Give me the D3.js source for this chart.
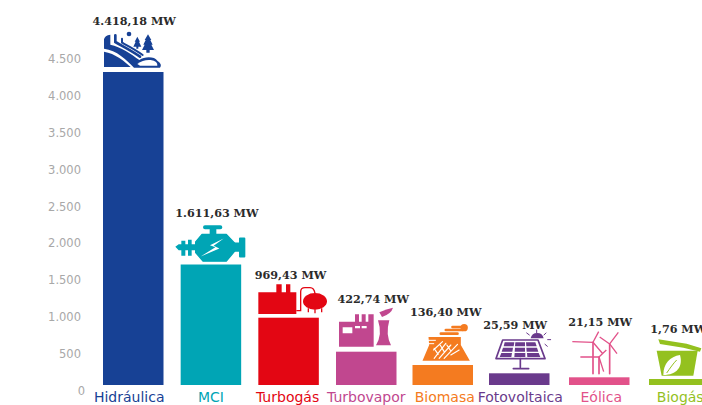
<!DOCTYPE html>
<html lang="es">
<head>
<meta charset="utf-8">
<style>
  html, body { margin: 0; padding: 0; background: #fff; overflow: hidden; }
  svg { display: block; }
</style>
<script src="https://cdn.jsdelivr.net/npm/d3@7/dist/d3.min.js"></script>
</head>
<body>
<svg id="chart" width="702" height="405"></svg>
<script>
// Potencia instalada por tecnología (MW)
const categories = ["Hidráulica", "MCI", "Turbogás", "Turbovapor", "Biomasa", "Fotovoltaica", "Eólica", "Biogás"];
const capacityMW = [4418.18, 1611.63, 969.43, 422.74, 136.40, 25.59, 21.15, 1.76];
const barColors = ["#174195", "#00a5b5", "#e30613", "#c1478f", "#f47b20", "#6a3a8c", "#e2528a", "#94c11f"];
const axisTicks = [0, 500, 1000, 1500, 2000, 2500, 3000, 3500, 4000, 4500];

const svg = d3.select("#chart");
const es = d3.formatLocale({ decimal: ",", thousands: ".", grouping: [3], currency: ["", ""] });

// The columns are an infographic: heights follow a stepped, non-proportional
// scale so that the smallest technologies stay visible beneath their pictograms.
const sorted = capacityMW.slice().sort(d3.ascending);
const barY = d3.scaleLinear()
  .domain([0, ...sorted])
  .range([385, 379, 377.3, 373.3, 365, 351.7, 317.7, 264.5, 72]);

const axisY = d3.scaleLinear().domain([0, 4500]).range([390.7, 59]);

// Column positions: spacing drifts slightly across the row of pictograms.
const barX = d3.scaleLinear().domain([0, 3, 5, 7]).range([103, 336, 489, 649]);
const barWidth = 60.5;

// Value axis: labels only
const axis = svg.append("g")
  .attr("transform", "translate(81,0)")
  .call(d3.axisLeft(axisY).tickValues(axisTicks).tickSize(0).tickPadding(0).tickFormat(es.format(",d")));
axis.select(".domain").remove();
axis.selectAll("text")
  .attr("font-family", "DejaVu Sans")
  .attr("font-size", 11.5)
  .attr("fill", "#a8a8a8")
  .attr("dx", d => d === 0 ? 4 : 0);

// Columns
svg.append("g").selectAll("rect")
  .data(capacityMW)
  .join("rect")
  .attr("x", (d, i) => barX(i))
  .attr("y", d => barY(d))
  .attr("width", barWidth)
  .attr("height", d => barY(0) - barY(d))
  .attr("fill", (d, i) => barColors[i]);

// Category names along the lower edge of the page
svg.append("g").selectAll("text")
  .data(categories)
  .join("text")
  .attr("x", (d, i) => barX(i) + barWidth / 2 + [-4, 0, -1, 0, 2, 1, 2, 1][i])
  .attr("y", 402)
  .attr("text-anchor", "middle")
  .attr("font-family", "DejaVu Sans")
  .attr("font-size", 14)
  .attr("fill", (d, i) => barColors[i])
  .text(d => d);

// Value labels, lifted above each pictogram
const labelLift = [47, 48, 39, 49, 49, 44, 51, 46];
const labelShift = [1, 6, 2, 7, 3, -4, 1, -1];
svg.append("g").selectAll("text")
  .data(capacityMW)
  .join("text")
  .attr("x", (d, i) => barX(i) + barWidth / 2 + labelShift[i])
  .attr("y", (d, i) => barY(d) - labelLift[i])
  .attr("text-anchor", "middle")
  .attr("font-family", "DejaVu Serif")
  .attr("font-weight", "bold")
  .attr("font-size", 11.2)
  .attr("fill", "#2b2b2b")
  .text(d => es.format(",.2f")(d) + " MW");

// Pictograms, authored on a grid three times the page size; each one is
// placed relative to the top-left corner of its column.
const pictograms = [
  { origin: [309, 216], draw(g, c) {
      g.append("path").attr("fill", c).attr("d", "M312,155C345,160 375,185 392,201L312,201Z");
      g.append("path").attr("fill", c).attr("d",
        "M312,118Q314,106 331,104V134C362,140 395,163 418,180C435,168 465,170 472,182Q488,192 480,203H402C380,180 350,150 312,146Z");
      g.append("path").attr("fill", "#fff").attr("d", "M412,192Q430,178 452,180Q474,184 472,197H420Z");
      g.append("path").attr("fill", "none").attr("stroke", c).attr("stroke-width", 8).attr("stroke-linecap", "round")
        .attr("d", "M346,106V126C370,140 395,152 420,170");
      g.append("path").attr("fill", "none").attr("stroke", c).attr("stroke-width", 6).attr("stroke-linecap", "round")
        .attr("d", "M366,116V128C385,138 405,148 428,165");
      g.append("circle").attr("cx", 387).attr("cy", 102).attr("r", 7).attr("fill", c);
      g.append("path").attr("fill", c).attr("d", "M412,110L420,125H417L424,140H415V146H409V140H400L407,125H404Z");
      g.append("path").attr("fill", c).attr("d", "M444,103L454,120H451L458,134H454L462,150H449V158H439V150H426L434,134H430L437,120H434Z");
  }},
  { origin: [58, 208], draw(g, c) {
      g.append("path").attr("fill", c).attr("stroke", c).attr("stroke-width", 4).attr("stroke-linejoin", "round")
        .attr("d", "M122,118H195L220,144V168L195,198H125L103,172V140Z");
      g.append("path").attr("fill", c).attr("d", "M42,155L52,147H60V137H72V147H80V134H91V147H105V165H91V182H80V165H72V182H60V165H52Z");
      g.append("path").attr("fill", c).attr("d", "M215,142H233V130Q233,127 236,127H249Q252,127 252,130V184Q252,187 249,187H236Q233,187 233,184V170H215Z");
      g.append("path").attr("fill", c).attr("d", "M131,90H177Q183,90 183,96Q183,102 177,102H165V122H145V102H131Q125,102 125,96Q125,90 131,90Z");
      g.append("path").attr("fill", "#fff").attr("d", "M187,130L146,150L162,156L118,184L174,160L157,152Z");
  }},
  { origin: [295, 368], draw(g, c) {
      g.append("path").attr("fill", c).attr("d", "M295,292H349V268H365V292H378V268H391V292H409V357H295Z");
      g.append("ellipse").attr("cx", 465).attr("cy", 319).attr("rx", 36).attr("ry", 25).attr("fill", c);
      g.append("path").attr("fill", "none").attr("stroke", c).attr("stroke-width", 4)
        .attr("d", "M409,347H422V290Q422,278 435,278H450Q462,278 465,295M445,340V352M465,343V355M485,340V352");
  }},
  { origin: [528, 470], draw(g, c) {
      g.append("path").attr("fill", c).attr("d",
        "M537,380H585V358H597V380H605V358H617V380H625V358H641V455H537Z");
      g.append("path").attr("fill", "#fff").attr("d", "M548,397H577V415H548ZM585,393H600V400H585ZM605,393H620V400H605Z");
      g.append("path").attr("fill", c).attr("d", "M648,451Q668,418 654,376H688Q676,418 693,451Z");
      g.append("path").attr("fill", c).attr("d", "M658,352Q680,342 699,338Q694,356 666,366Z");
  }},
  { origin: [35, 210], draw(g, c) {
      g.append("path").attr("fill", c).attr("d", "M65,197L85,150L83,126H180L180,150L207,197Z");
      g.append("path").attr("fill", "none").attr("stroke", c).attr("stroke-width", 8).attr("stroke-linecap", "round")
        .attr("d", "M120,116H170M135,105H185M155,96H190");
      g.append("circle").attr("cx", 190).attr("cy", 98).attr("r", 11).attr("fill", c);
      g.append("path").attr("fill", "none").attr("stroke", "#fff").attr("stroke-width", 3.5).attr("stroke-linecap", "round")
        .attr("d", "M100,190L135,145M115,190L150,150M130,190L170,148M98,165L125,140M112,178L100,160M130,170L118,150M150,168L138,150M150,180L175,165");
      g.append("path").attr("fill", "none").attr("stroke", "#fff").attr("stroke-width", 3)
        .attr("d", "M80,136H105M82,146H100");
  }},
  { origin: [266, 235], draw(g, c) {
      g.append("path").attr("fill", "#fff").attr("stroke", c).attr("stroke-width", 5).attr("stroke-linejoin", "round")
        .attr("d", "M307,135H413L434,191H287Z");
      g.append("path").attr("fill", c)
        .attr("d", "M313,142H342L340,154H310ZM345,142H374V154H344ZM377,142H405L409,154H378ZM308,158H338L336,170H304ZM344,158H374V170H343ZM378,158H410L414,170H379ZM303,174H335L333,186H298ZM343,174H375V186H342ZM380,174H415L420,186H381Z");
      g.append("path").attr("fill", "none").attr("stroke", c).attr("stroke-width", 5).attr("stroke-linecap", "round")
        .attr("d", "M360,191V217M339,221H385");
      g.append("path").attr("fill", c).attr("d", "M391,130A20,20 0 0 1 430,130Z");
      g.append("path").attr("fill", "none").attr("stroke", c).attr("stroke-width", 3).attr("stroke-linecap", "round")
        .attr("d", "M379,114L387,120M409,105V113M437,114L431,120M451,134H442M441,154L434,148");
  }},
  { origin: [506, 247], draw(g, c) {
      g.append("path").attr("fill", "none").attr("stroke", c).attr("stroke-width", 5).attr("stroke-linecap", "round")
        .attr("d", "M578,142V236M628,147V236M596,186V236");
      g.append("path").attr("fill", "none").attr("stroke", c).attr("stroke-width", 4)
        .attr("d", "M578,142L595,110M578,142L516,140M578,142L606,175M628,147L654,112M628,147L650,176M628,147L598,126M596,186L540,186M596,186L618,165M596,186L610,230");
  }},
  { origin: [747, 252], draw(g, c) {
      g.append("path").attr("fill", c).attr("d", "M770,167H893L880,242H785Z");
      g.append("path").attr("fill", c).attr("d", "M775,133L860,146L904,160L900,170L850,158L780,147Z");
      g.append("path").attr("fill", "#fff").attr("d", "M790,240C790,205 810,185 840,180C850,215 830,240 790,240Z");
      g.append("path").attr("fill", "none").attr("stroke", c).attr("stroke-width", 3).attr("d", "M800,234C810,220 820,205 830,195");
  }}
];

const iconLayer = svg.append("g");
pictograms.forEach((p, i) => {
  const g = iconLayer.append("g")
    .attr("transform", `translate(${barX(i)},${barY(capacityMW[i])}) scale(${1 / 3}) translate(${-p.origin[0]},${-p.origin[1]})`);
  p.draw(g, barColors[i]);
});
</script>
</body>
</html>
